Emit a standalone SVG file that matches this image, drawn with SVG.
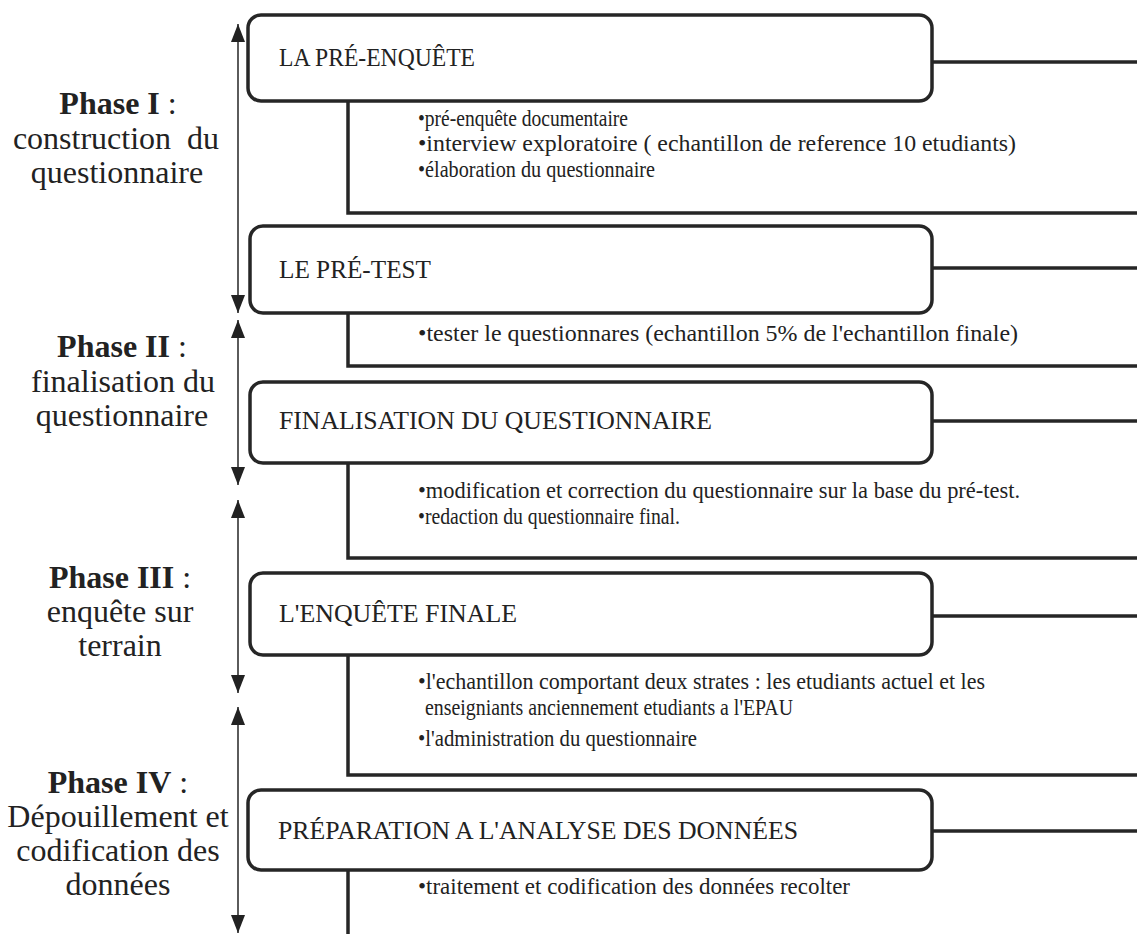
<svg xmlns="http://www.w3.org/2000/svg" width="1137" height="934" viewBox="0 0 1137 934">
<style>
.box{fill:#fff;stroke:#262626;stroke-width:3.5}
.con{fill:none;stroke:#262626;stroke-width:3.5}
.ph{fill:none;stroke:#333;stroke-width:1.6}
.lbl{font-family:"Liberation Serif","DejaVu Serif",serif;font-size:25px;fill:#222}
.bul{font-family:"Liberation Serif","DejaVu Serif",serif;font-size:23px;fill:#222}
.pt{font-family:"Liberation Serif","DejaVu Serif",serif;font-size:32px;fill:#222;text-anchor:middle}
.pb{font-weight:bold}
</style>
<defs>
<marker id="ah" markerUnits="userSpaceOnUse" markerWidth="18" markerHeight="14" refX="18" refY="7" orient="auto-start-reverse">
<path d="M0,0 L18,7 L0,14 z" fill="#222"/>
</marker>
</defs>
<rect width="1137" height="934" fill="#fff"/>
<g id="connectors">
<path class="con" d="M932,62 H1137"/>
<path class="con" d="M348,101 V213 H1137"/>
<path class="con" d="M932,268 H1137"/>
<path class="con" d="M348,313 V366 H1137"/>
<path class="con" d="M932,421 H1137"/>
<path class="con" d="M348,463 V558 H1137"/>
<path class="con" d="M932,616 H1137"/>
<path class="con" d="M348,655 V775 H1137"/>
<path class="con" d="M932,831 H1137"/>
<path class="con" d="M348,870 V934"/>
</g>
<g id="phase-arrows">
<line class="ph" x1="238" y1="24" x2="238" y2="313" marker-start="url(#ah)" marker-end="url(#ah)"/>
<line class="ph" x1="238" y1="320" x2="238" y2="485" marker-start="url(#ah)" marker-end="url(#ah)"/>
<line class="ph" x1="238" y1="500" x2="238" y2="693" marker-start="url(#ah)" marker-end="url(#ah)"/>
<line class="ph" x1="238" y1="707" x2="238" y2="933" marker-start="url(#ah)" marker-end="url(#ah)"/>
</g>
<g id="phase1">
<text class="pt" x="118" y="114"><tspan class="pb">Phase I</tspan> :</text>
<text class="pt" x="116" y="149" xml:space="preserve">construction  du</text>
<text class="pt" x="117" y="183">questionnaire</text>
</g>
<g id="phase2">
<text class="pt" x="122" y="357"><tspan class="pb">Phase II</tspan> :</text>
<text class="pt" x="123" y="392">finalisation du</text>
<text class="pt" x="122" y="426">questionnaire</text>
</g>
<g id="phase3">
<text class="pt" x="120" y="588"><tspan class="pb">Phase III</tspan> :</text>
<text class="pt" x="120" y="622">enquête sur</text>
<text class="pt" x="120" y="656">terrain</text>
</g>
<g id="phase4">
<text class="pt" x="118" y="793"><tspan class="pb">Phase IV</tspan> :</text>
<text class="pt" x="118" y="827">Dépouillement et</text>
<text class="pt" x="118" y="861">codification des</text>
<text class="pt" x="118" y="895">données</text>
</g>
<g id="node-preenquete">
<rect class="box" x="248" y="15" width="684" height="86" rx="13"/>
<text class="lbl" x="279" y="66" textLength="196" lengthAdjust="spacingAndGlyphs">LA PRÉ-ENQUÊTE</text>
<text class="bul" x="418" y="126" textLength="210" lengthAdjust="spacingAndGlyphs">•pré-enquête documentaire</text>
<text class="bul" x="418" y="151" textLength="598" lengthAdjust="spacingAndGlyphs">•interview exploratoire ( echantillon de reference 10 etudiants)</text>
<text class="bul" x="418" y="177" textLength="237" lengthAdjust="spacingAndGlyphs">•élaboration du questionnaire</text>
</g>
<g id="node-pretest">
<rect class="box" x="250" y="226" width="682" height="87" rx="13"/>
<text class="lbl" x="279" y="278" textLength="152" lengthAdjust="spacingAndGlyphs">LE PRÉ-TEST</text>
<text class="bul" x="418" y="341" textLength="600" lengthAdjust="spacingAndGlyphs">•tester le questionnares (echantillon 5% de l'echantillon finale)</text>
</g>
<g id="node-finalisation">
<rect class="box" x="250" y="382" width="682" height="81" rx="13"/>
<text class="lbl" x="279" y="429" textLength="433" lengthAdjust="spacingAndGlyphs">FINALISATION DU QUESTIONNAIRE</text>
<text class="bul" x="418" y="498" textLength="602" lengthAdjust="spacingAndGlyphs">•modification et correction du questionnaire sur la base du pré-test.</text>
<text class="bul" x="418" y="524" textLength="262" lengthAdjust="spacingAndGlyphs">•redaction du questionnaire final.</text>
</g>
<g id="node-enquete-finale">
<rect class="box" x="250" y="573" width="682" height="82" rx="13"/>
<text class="lbl" x="279" y="622" textLength="238" lengthAdjust="spacingAndGlyphs">L'ENQUÊTE FINALE</text>
<text class="bul" x="418" y="689" textLength="567" lengthAdjust="spacingAndGlyphs">•l'echantillon comportant deux strates : les etudiants actuel et les</text>
<text class="bul" x="425" y="715" textLength="368" lengthAdjust="spacingAndGlyphs">enseigniants anciennement etudiants a l'EPAU</text>
<text class="bul" x="418" y="746" textLength="279" lengthAdjust="spacingAndGlyphs">•l'administration du questionnaire</text>
</g>
<g id="node-preparation">
<rect class="box" x="248" y="790" width="684" height="80" rx="13"/>
<text class="lbl" x="278" y="839" textLength="520" lengthAdjust="spacingAndGlyphs">PRÉPARATION A L'ANALYSE DES DONNÉES</text>
<text class="bul" x="418" y="894" textLength="432" lengthAdjust="spacingAndGlyphs">•traitement et codification des données recolter</text>
</g>
</svg>
